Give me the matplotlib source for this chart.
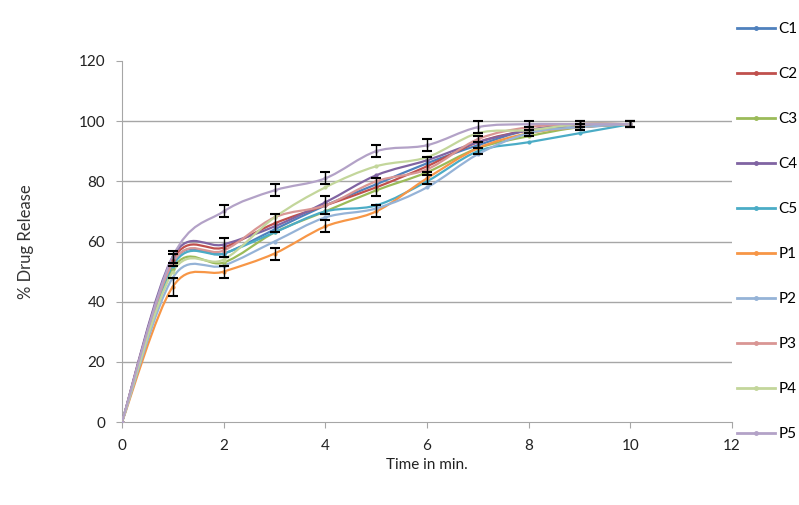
import matplotlib
matplotlib.use("Agg")
import matplotlib.pyplot as plt
from matplotlib.path import Path
from matplotlib.patches import PathPatch
from matplotlib.lines import Line2D
import numpy as np

plt.rcParams['font.family'] = ['Lato', 'DejaVu Sans']

time = [0, 1, 2, 3, 4, 5, 6, 7, 8, 9, 10]
series_names = ["C1", "C2", "C3", "C4", "C5", "P1", "P2", "P3", "P4", "P5"]
C1 = [0, 53, 56, 64, 72, 79, 86, 92, 97, 98, 99]
C2 = [0, 54, 58, 66, 72, 78, 85, 93, 97, 99, 99]
C3 = [0, 51, 53, 63, 70, 77, 83, 91, 95, 98, 99]
C4 = [0, 55, 59, 65, 73, 82, 87, 93, 97, 99, 99]
C5 = [0, 52, 56, 63, 70, 72, 80, 90, 93, 96, 99]
P1 = [0, 45, 50, 56, 65, 70, 81, 91, 96, 98, 99]
P2 = [0, 48, 52, 60, 68, 71, 78, 89, 96, 98, 99]
P3 = [0, 53, 57, 68, 72, 80, 84, 94, 98, 99, 99]
P4 = [0, 50, 54, 68, 78, 85, 88, 96, 97, 99, 99]
P5 = [0, 55, 70, 77, 81, 90, 92, 98, 99, 99, 99]
# error bars (shown on a few series)
err_C2 = [0, 2, 3, 3, 3, 3, 3, 2, 1, 1, 1]
err_P1 = [0, 3, 2, 2, 2, 2, 2, 2, 1, 1, 1]
err_P5 = [0, 2, 2, 2, 2, 2, 2, 2, 1, 1, 1]

colors = ["#4F81BD", "#C0504D", "#9BBB59", "#8064A2", "#4BACC6",
          "#F79646", "#95B3D7", "#D99694", "#C3D69B", "#B3A2C7"]
all_series = [C1, C2, C3, C4, C5, P1, P2, P3, P4, P5]

fig = plt.figure(figsize=(7.99, 5.05), dpi=100)
ax = fig.add_axes([122/799, 1-422/505, 610/799, 361/505])


def smooth_path(xs, ys):
    pts = np.column_stack([xs, ys]).astype(float)
    n = len(pts)
    verts = [pts[0]]
    codes = [Path.MOVETO]
    for i in range(n - 1):
        p0 = pts[i - 1] if i > 0 else pts[i]
        p1 = pts[i]
        p2 = pts[i + 1]
        p3 = pts[i + 2] if i + 2 < n else pts[i + 1]
        c1 = p1 + (p2 - p0) / 6.0
        c2 = p2 - (p3 - p1) / 6.0
        verts += [c1, c2, p2]
        codes += [Path.CURVE4] * 3
    return Path(verts, codes)


for name, vals, col in zip(series_names, all_series, colors):
    patch = PathPatch(smooth_path(time, vals), fill=False, edgecolor=col,
                      lw=1.6, transform=ax.transData, zorder=3)
    ax.add_patch(patch)
    ax.plot(time, vals, linestyle='none', marker='o', ms=2, color=col, zorder=4)

for vals, err in [(C2, err_C2), (P1, err_P1), (P5, err_P5)]:
    ax.errorbar(time[1:], vals[1:], yerr=err[1:], fmt='none', ecolor='black',
                elinewidth=1, capsize=3.5, capthick=1.5, zorder=5)

ax.set_xlim(0, 12)
ax.set_ylim(0, 120)
ax.set_xticks(range(0, 13, 2))
ax.set_yticks(range(0, 121, 20))
for y in range(20, 101, 20):
    ax.axhline(y, color='#A6A6A6', lw=1, zorder=1)
for s in ['top', 'right']:
    ax.spines[s].set_visible(False)
for s in ['left', 'bottom']:
    ax.spines[s].set_color('#A6A6A6')
ax.tick_params(axis='both', colors='#A6A6A6', labelcolor='#222222',
               labelsize=11, length=4, direction='out')
ax.tick_params(axis='y', pad=8)
ax.tick_params(axis='x', pad=8)
ax.set_xlabel("Time in min.", fontsize=11, color='#222222', labelpad=4)
ax.set_ylabel("% Drug Release", fontsize=12, color='#333333', labelpad=32)

handles = [Line2D([0], [0], color=c, lw=2, marker='o', ms=2.5) for c in colors]
fig.legend(handles, series_names, loc='upper left',
           bbox_to_anchor=(731/799, 1-16/505), frameon=False, fontsize=11,
           handlelength=2.5, handletextpad=0.2, labelspacing=2.03,
           borderaxespad=0)

fig.savefig("out.png", dpi=100)
